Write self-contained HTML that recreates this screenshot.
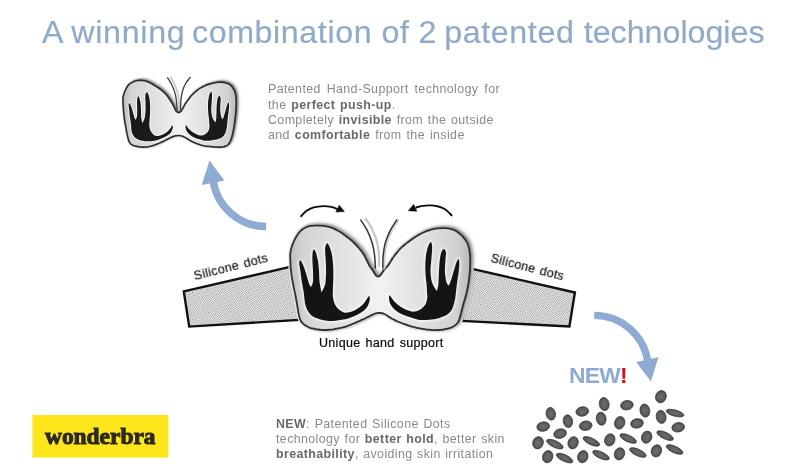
<!DOCTYPE html>
<html><head><meta charset="utf-8"><title>A winning combination of 2 patented technologies</title>
<style>
html,body{margin:0;padding:0;background:#fff}
#stage{position:relative;width:800px;height:476px;overflow:hidden;background:#fff;font-family:"Liberation Sans",sans-serif}
svg{position:absolute;left:0;top:0}
.t{position:absolute;white-space:pre;line-height:20px;height:20px;margin:0;will-change:transform}
.t b{color:#6a6a6a}
</style></head><body>
<div id="stage">
<svg width="800" height="476" viewBox="0 0 800 476">
<defs>
<linearGradient id="cup" x1="0" y1="0" x2="1" y2="0"><stop offset="0" stop-color="#c0c0c0"/><stop offset=".08" stop-color="#d4d4d4"/><stop offset=".3" stop-color="#e2e2e2"/><stop offset=".5" stop-color="#f2f2f2"/><stop offset=".7" stop-color="#e2e2e2"/><stop offset=".92" stop-color="#d2d2d2"/><stop offset="1" stop-color="#bababa"/></linearGradient>
<path id="bra" d="M377.9 276.6C377.1 276.6 376.2 275.9 375.6 275.2C375 274.6 374.6 273.6 374.1 272.7C373.6 271.8 373.1 270.9 372.6 270.1C372 269.3 371.4 268.5 370.8 267.7C370.2 266.9 369.7 266.1 369.1 265.2C368.6 264.3 368.2 263.4 367.8 262.5C367.3 261.6 366.9 260.7 366.5 259.8C366 258.9 365.6 258 365.2 257.1C364.7 256.2 364.2 255.4 363.7 254.5C363.2 253.7 362.6 252.8 362 252C361.5 251.2 360.8 250.4 360.2 249.7C359.6 248.9 358.9 248.1 358.2 247.4C357.6 246.6 356.9 245.9 356.2 245.2C355.5 244.4 354.8 243.7 354.1 243C353.4 242.3 352.7 241.6 352 240.9C351.2 240.3 350.5 239.6 349.7 239C348.9 238.4 348.1 237.8 347.3 237.2C346.5 236.6 345.7 236 344.9 235.4C344.1 234.8 343.3 234.2 342.5 233.6C341.6 233.1 340.8 232.5 340 231.9C339.2 231.4 338.3 230.9 337.4 230.5C336.5 230 335.6 229.5 334.7 229.1C333.8 228.7 332.9 228.2 332 227.9C331 227.5 330.1 227.2 329.1 226.9C328.2 226.6 327.2 226.4 326.2 226.3C325.2 226.1 324.2 226 323.2 225.9C322.2 225.8 321.2 225.7 320.2 225.7C319.2 225.6 318.2 225.6 317.2 225.6C316.3 225.6 315.2 225.5 314.3 225.6C313.3 225.6 312.2 225.7 311.3 225.8C310.3 225.9 309.3 226.1 308.3 226.4C307.4 226.7 306.4 227.1 305.6 227.5C304.7 227.9 303.8 228.4 303 229C302.2 229.6 301.4 230.2 300.7 230.9C299.9 231.6 299.3 232.3 298.7 233.1C298 233.9 297.5 234.7 297 235.6C296.4 236.4 296 237.3 295.5 238.2C295 239.1 294.6 240 294.1 240.9C293.7 241.8 293.3 242.7 292.9 243.6C292.5 244.5 292.2 245.5 291.9 246.4C291.6 247.4 291.3 248.3 291.1 249.3C290.8 250.3 290.6 251.3 290.5 252.3C290.4 253.2 290.3 254.2 290.2 255.2C290.2 256.2 290.3 257.2 290.3 258.2C290.3 259.2 290.4 260.2 290.4 261.2C290.5 262.2 290.5 263.2 290.5 264.2C290.6 265.2 290.6 266.2 290.7 267.2C290.8 268.2 290.8 269.2 290.9 270.2C291 271.2 291.1 272.2 291.3 273.2C291.4 274.2 291.5 275.2 291.7 276.2C291.9 277.2 292 278.1 292.2 279.1C292.4 280.1 292.5 281.1 292.7 282.1C292.9 283.1 293.1 284 293.3 285C293.5 286 293.7 287 293.9 288C294.1 288.9 294.3 289.9 294.5 290.9C294.7 291.9 294.9 292.9 295.1 293.8C295.3 294.8 295.5 295.8 295.7 296.8C295.9 297.8 296.1 298.7 296.2 299.7C296.4 300.7 296.6 301.7 296.8 302.7C296.9 303.7 297.1 304.6 297.3 305.6C297.4 306.6 297.6 307.6 297.8 308.6C297.9 309.6 298.1 310.6 298.2 311.6C298.4 312.5 298.6 313.5 298.8 314.5C299.1 315.5 299.3 316.5 299.5 317.4C299.8 318.4 300.1 319.3 300.5 320.2C301 321.1 301.5 322 302.2 322.7C302.8 323.4 303.6 324.1 304.4 324.7C305.2 325.3 306.1 325.8 306.9 326.3C307.8 326.8 308.7 327.2 309.6 327.6C310.6 327.9 311.5 328.2 312.5 328.4C313.5 328.7 314.5 328.9 315.4 329.1C316.4 329.3 317.4 329.4 318.4 329.5C319.4 329.7 320.4 329.8 321.4 329.8C322.4 329.9 323.4 330 324.4 330C325.4 330 326.4 330 327.4 330C328.4 329.9 329.4 329.8 330.4 329.7C331.3 329.6 332.3 329.4 333.3 329.3C334.3 329.1 335.3 328.9 336.3 328.7C337.3 328.6 338.2 328.4 339.2 328.2C340.2 328 341.2 327.8 342.2 327.6C343.1 327.3 344.1 327.1 345 326.8C346 326.5 346.9 326.1 347.9 325.8C348.8 325.4 349.7 325.1 350.7 324.7C351.6 324.3 352.5 323.9 353.4 323.5C354.4 323.2 355.3 322.8 356.2 322.4C357.1 322 358 321.6 359 321.2C359.9 320.8 360.8 320.3 361.7 319.9C362.6 319.5 363.5 319.1 364.4 318.7C365.3 318.2 366.2 317.8 367.1 317.3C368 316.9 368.9 316.4 369.8 316C370.7 315.5 371.5 315.1 372.5 314.7C373.4 314.3 374.3 313.8 375.2 313.5C376.2 313.2 377.2 313 378.2 312.9C379.1 312.8 380.2 312.8 381.1 313C382.1 313.1 383.1 313.4 384 313.8C384.9 314.2 385.8 314.7 386.6 315.2C387.5 315.7 388.3 316.3 389.1 316.9C390 317.4 390.8 318 391.6 318.5C392.5 319 393.4 319.5 394.3 319.9C395.2 320.3 396.1 320.7 397 321.2C397.9 321.6 398.9 321.9 399.8 322.3C400.7 322.7 401.6 323 402.6 323.4C403.5 323.7 404.5 324.1 405.4 324.4C406.4 324.7 407.3 325 408.2 325.4C409.2 325.7 410.1 326 411.1 326.3C412.1 326.6 413 326.9 414 327.2C414.9 327.5 415.9 327.7 416.9 327.9C417.8 328.1 418.8 328.2 419.8 328.3C420.8 328.5 421.8 328.7 422.8 328.8C423.8 329 424.8 329.2 425.7 329.3C426.7 329.5 427.7 329.6 428.7 329.7C429.7 329.8 430.7 329.9 431.7 330C432.7 330 433.7 330.1 434.7 330.1C435.7 330.1 436.7 330.1 437.7 330C438.7 330 439.7 329.9 440.7 329.8C441.7 329.7 442.7 329.6 443.7 329.5C444.7 329.3 445.6 329.1 446.6 328.9C447.6 328.7 448.6 328.5 449.5 328.2C450.5 327.8 451.4 327.5 452.3 327C453.2 326.6 454.1 326.1 454.9 325.5C455.7 324.9 456.4 324.3 457.1 323.5C457.7 322.8 458.2 321.9 458.7 321C459.1 320.1 459.4 319.2 459.7 318.2C460 317.3 460.2 316.3 460.4 315.3C460.7 314.3 460.9 313.4 461.2 312.4C461.4 311.4 461.7 310.5 461.9 309.5C462.2 308.5 462.4 307.6 462.7 306.6C462.9 305.6 463.2 304.7 463.4 303.7C463.7 302.7 464 301.8 464.3 300.8C464.6 299.9 464.9 298.9 465.2 297.9C465.5 297 465.7 296 466 295.1C466.2 294.1 466.5 293.1 466.7 292.1C466.9 291.2 467.1 290.2 467.3 289.2C467.5 288.2 467.7 287.3 467.9 286.3C468.1 285.3 468.3 284.3 468.4 283.3C468.6 282.3 468.7 281.3 468.9 280.3C469 279.4 469.1 278.4 469.2 277.4C469.3 276.4 469.4 275.4 469.5 274.4C469.6 273.4 469.7 272.4 469.8 271.4C469.9 270.4 469.9 269.4 470 268.4C470 267.4 470.1 266.4 470.1 265.4C470.2 264.4 470.2 263.4 470.2 262.4C470.2 261.4 470.2 260.4 470.2 259.4C470.2 258.4 470.1 257.4 470.1 256.4C470 255.4 469.9 254.4 469.8 253.4C469.7 252.4 469.5 251.4 469.4 250.5C469.2 249.5 469.1 248.5 468.8 247.5C468.6 246.5 468.3 245.6 467.9 244.7C467.6 243.7 467.2 242.8 466.7 241.9C466.2 241.1 465.7 240.2 465.1 239.4C464.5 238.6 463.8 237.8 463.2 237.1C462.5 236.3 461.8 235.6 461.1 234.9C460.4 234.3 459.6 233.6 458.8 233C458.1 232.4 457.2 231.8 456.4 231.2C455.5 230.7 454.7 230.3 453.7 229.9C452.8 229.5 451.9 229.2 450.9 228.9C449.9 228.7 448.9 228.6 447.9 228.4C447 228.3 446 228.2 445 228.2C444 228.1 443 228.1 442 228.1C441 228.1 440 228.2 439 228.3C438 228.3 437 228.5 436 228.6C435 228.8 434 229 433.1 229.2C432.1 229.4 431.1 229.7 430.2 230C429.2 230.2 428.2 230.6 427.3 230.9C426.4 231.2 425.4 231.6 424.5 232C423.6 232.4 422.7 232.8 421.8 233.3C420.9 233.7 420 234.2 419.1 234.6C418.3 235.1 417.4 235.6 416.6 236.2C415.7 236.7 414.9 237.3 414 237.8C413.2 238.4 412.4 238.9 411.6 239.5C410.8 240.1 410 240.7 409.2 241.3C408.4 241.9 407.6 242.5 406.8 243.1C406 243.7 405.2 244.3 404.4 245C403.7 245.6 402.9 246.3 402.2 246.9C401.4 247.6 400.7 248.3 400 249C399.3 249.8 398.6 250.5 398 251.3C397.3 252 396.7 252.8 396.1 253.6C395.5 254.4 394.9 255.2 394.3 256C393.7 256.8 393.1 257.6 392.6 258.4C392 259.2 391.5 260.1 391 261C390.4 261.8 390 262.7 389.4 263.5C388.9 264.4 388.3 265.2 387.7 266C387.1 266.7 386.3 267.5 385.7 268.2C385 268.9 384.3 269.7 383.7 270.4C383.1 271.2 382.6 272.1 382 272.9C381.5 273.7 381 274.7 380.3 275.3C379.6 276 378.7 276.7 377.9 276.6Z"/><path id="sbra" d="M178.5 112.59C177.74 112.62 177 112.03 176.44 111.49C175.88 110.96 175.53 110.11 175.14 109.38C174.75 108.65 174.46 107.86 174.1 107.11C173.75 106.36 173.38 105.61 172.99 104.87C172.59 104.14 172.17 103.42 171.75 102.7C171.33 101.98 170.91 101.26 170.48 100.55C170.04 99.84 169.6 99.13 169.13 98.45C168.67 97.76 168.19 97.07 167.68 96.42C167.16 95.76 166.62 95.13 166.06 94.51C165.51 93.89 164.92 93.3 164.32 92.72C163.73 92.13 163.11 91.57 162.49 91.02C161.86 90.47 161.23 89.93 160.57 89.43C159.91 88.92 159.22 88.44 158.53 87.98C157.83 87.52 157.12 87.1 156.41 86.66C155.7 86.22 154.99 85.79 154.28 85.35C153.56 84.92 152.86 84.48 152.13 84.07C151.41 83.65 150.69 83.24 149.94 82.87C149.2 82.49 148.44 82.14 147.67 81.82C146.9 81.51 146.12 81.21 145.32 80.99C144.52 80.77 143.7 80.63 142.87 80.53C142.05 80.43 141.21 80.41 140.38 80.4C139.55 80.4 138.71 80.42 137.88 80.52C137.06 80.61 136.23 80.74 135.44 80.98C134.65 81.22 133.9 81.61 133.15 81.97C132.41 82.34 131.66 82.73 130.96 83.17C130.26 83.61 129.54 84.07 128.94 84.63C128.34 85.19 127.82 85.85 127.35 86.53C126.89 87.21 126.52 87.97 126.14 88.71C125.76 89.45 125.4 90.21 125.07 90.97C124.73 91.73 124.41 92.5 124.14 93.29C123.86 94.07 123.62 94.87 123.43 95.68C123.25 96.49 123.11 97.32 123.04 98.14C122.97 98.97 123 99.81 123.01 100.64C123.02 101.47 123.05 102.31 123.08 103.14C123.12 103.97 123.16 104.8 123.2 105.64C123.25 106.47 123.3 107.3 123.35 108.13C123.41 108.96 123.47 109.79 123.53 110.62C123.6 111.45 123.67 112.28 123.75 113.11C123.83 113.94 123.92 114.77 124.02 115.6C124.11 116.42 124.22 117.25 124.33 118.08C124.45 118.9 124.57 119.73 124.69 120.55C124.82 121.37 124.95 122.2 125.08 123.02C125.22 123.84 125.36 124.66 125.5 125.48C125.64 126.3 125.78 127.12 125.93 127.94C126.08 128.76 126.22 129.58 126.38 130.4C126.53 131.22 126.69 132.04 126.86 132.85C127.02 133.67 127.19 134.49 127.37 135.3C127.55 136.11 127.73 136.93 127.93 137.74C128.13 138.54 128.29 139.37 128.57 140.15C128.85 140.93 129.15 141.72 129.58 142.41C130.02 143.1 130.54 143.8 131.17 144.31C131.8 144.81 132.6 145.13 133.36 145.43C134.13 145.73 134.96 145.9 135.77 146.1C136.58 146.3 137.39 146.47 138.21 146.62C139.03 146.76 139.86 146.9 140.68 146.99C141.51 147.07 142.34 147.13 143.18 147.15C144.01 147.16 144.84 147.14 145.67 147.07C146.5 147.01 147.33 146.9 148.15 146.76C148.97 146.62 149.79 146.45 150.59 146.25C151.4 146.05 152.2 145.81 153 145.56C153.79 145.31 154.58 145.03 155.36 144.75C156.14 144.46 156.92 144.16 157.69 143.85C158.46 143.53 159.23 143.22 159.99 142.88C160.75 142.54 161.51 142.18 162.25 141.81C163 141.44 163.74 141.05 164.48 140.67C165.22 140.29 165.95 139.89 166.69 139.51C167.43 139.13 168.18 138.76 168.92 138.39C169.67 138.03 170.42 137.67 171.19 137.33C171.95 136.99 172.71 136.64 173.49 136.37C174.28 136.1 175.08 135.86 175.9 135.71C176.71 135.56 177.55 135.47 178.37 135.48C179.2 135.48 180.04 135.58 180.85 135.76C181.65 135.94 182.44 136.24 183.21 136.56C183.97 136.87 184.71 137.27 185.44 137.67C186.17 138.07 186.88 138.52 187.59 138.94C188.31 139.36 189.02 139.81 189.74 140.22C190.46 140.63 191.19 141.04 191.94 141.41C192.68 141.79 193.44 142.14 194.2 142.48C194.95 142.82 195.72 143.15 196.49 143.47C197.26 143.78 198.04 144.09 198.82 144.37C199.6 144.65 200.39 144.93 201.19 145.16C201.99 145.39 202.8 145.6 203.61 145.77C204.43 145.94 205.25 146.06 206.08 146.17C206.9 146.28 207.73 146.34 208.56 146.42C209.39 146.5 210.22 146.56 211.05 146.63C211.88 146.7 212.71 146.78 213.54 146.85C214.37 146.92 215.2 146.99 216.04 147.04C216.87 147.09 217.7 147.14 218.53 147.16C219.36 147.17 220.2 147.17 221.03 147.11C221.86 147.05 222.7 146.98 223.5 146.81C224.31 146.64 225.14 146.44 225.89 146.09C226.63 145.75 227.34 145.28 227.95 144.73C228.55 144.18 229.06 143.49 229.51 142.8C229.95 142.1 230.29 141.33 230.61 140.56C230.94 139.8 231.21 139.01 231.47 138.21C231.72 137.42 231.94 136.62 232.15 135.81C232.36 135.01 232.54 134.19 232.72 133.38C232.89 132.56 233.05 131.75 233.21 130.93C233.37 130.11 233.52 129.29 233.66 128.47C233.81 127.65 233.95 126.83 234.08 126.01C234.21 125.18 234.34 124.36 234.47 123.54C234.59 122.71 234.71 121.89 234.82 121.06C234.93 120.24 235.03 119.41 235.13 118.58C235.23 117.76 235.32 116.93 235.41 116.1C235.49 115.27 235.57 114.44 235.64 113.61C235.71 112.78 235.77 111.95 235.83 111.12C235.89 110.29 235.94 109.46 235.99 108.63C236.04 107.79 236.08 106.96 236.12 106.13C236.15 105.3 236.18 104.47 236.2 103.63C236.21 102.8 236.22 101.97 236.2 101.13C236.19 100.3 236.16 99.47 236.09 98.64C236.03 97.81 235.95 96.98 235.83 96.15C235.71 95.33 235.57 94.51 235.37 93.7C235.17 92.89 234.94 92.09 234.64 91.31C234.34 90.54 233.99 89.78 233.59 89.05C233.18 88.33 232.73 87.62 232.21 86.97C231.69 86.33 231.11 85.71 230.48 85.19C229.84 84.67 229.13 84.21 228.39 83.83C227.66 83.45 226.87 83.16 226.07 82.92C225.28 82.68 224.46 82.51 223.64 82.38C222.82 82.25 221.98 82.17 221.15 82.13C220.32 82.1 219.49 82.11 218.66 82.17C217.83 82.24 217.01 82.37 216.19 82.52C215.37 82.66 214.56 82.85 213.74 83.04C212.93 83.23 212.13 83.45 211.32 83.66C210.52 83.87 209.7 84.06 208.91 84.3C208.11 84.54 207.31 84.77 206.54 85.08C205.77 85.38 205.03 85.78 204.27 86.13C203.52 86.48 202.75 86.81 202.01 87.19C201.27 87.57 200.54 87.97 199.84 88.42C199.14 88.87 198.47 89.36 197.8 89.86C197.13 90.36 196.48 90.88 195.84 91.42C195.2 91.95 194.57 92.5 193.96 93.06C193.35 93.63 192.75 94.21 192.18 94.81C191.61 95.41 191.06 96.04 190.52 96.68C189.99 97.32 189.48 97.98 188.97 98.64C188.47 99.31 187.99 99.98 187.51 100.66C187.02 101.34 186.55 102.03 186.09 102.72C185.63 103.42 185.17 104.11 184.75 104.83C184.32 105.55 183.94 106.29 183.55 107.02C183.15 107.75 182.8 108.52 182.38 109.23C181.96 109.94 181.65 110.74 181 111.3C180.36 111.86 179.26 112.56 178.5 112.59Z"/><path id="lh" d="M299.7 260.6C300 260.2 300.5 260.1 301.3 261.4C302.1 262.6 303.4 265.6 304.3 268.1C305.2 270.6 306.1 273.9 306.9 276.5C307.7 279.1 308.4 282 309.1 283.8C309.8 285.6 310.7 286.6 311 287.2C311.3 286.2 312.7 284.2 313 281.5C313.3 278.8 313.1 274.5 313 271C312.9 267.5 312.5 263.5 312.4 260.5C312.3 257.5 312.4 255 312.6 253.2C312.8 251.4 313.2 249.8 313.7 249.6C314.2 249.4 314.9 250 315.6 251.8C316.3 253.6 317.3 257.3 317.9 260.5C318.5 263.7 318.7 267.5 319 271C319.3 274.5 319.1 277.9 319.5 281.5C319.9 285.1 321.2 290.6 321.5 292.4C322.1 291.2 324.3 287.4 325 285C325.7 282.6 325.6 280.3 325.8 278C326 275.7 326.1 274 326.1 271C326.1 268 325.9 263.8 325.7 260C325.5 256.2 324.9 251.2 325.1 248.4C325.3 245.6 326.3 243.9 326.9 243.4C327.5 242.9 328.1 243.5 328.9 245.3C329.7 247.1 331.1 250.5 331.8 254C332.5 257.5 332.9 262.3 333.2 266.5C333.4 270.7 333.4 275.1 333.3 279C333.2 282.9 332.9 286.9 332.9 290C332.8 293.1 332.6 295.1 333 297.5C333.4 299.9 333.9 302.4 335 304.5C336.1 306.6 337.6 308.4 339.3 309.8C341 311.2 342.8 312.4 345 312.7C347.2 312.9 350.2 312.2 352.6 311.3C355 310.4 357.3 308.9 359.2 307.5C361.1 306.1 362.6 304.7 363.9 303.2C365.2 301.7 366.3 299.7 367.2 298.5C368.1 297.3 368.7 295.9 369.1 296.1C369.5 296.3 370 297.8 369.8 299.5C369.6 301.2 368.8 304.1 367.7 306.1C366.6 308.1 365.2 309.7 363 311.3C360.8 312.9 357.5 314.7 354.5 316C351.5 317.3 348.7 318.5 345 319.3C341.3 320.1 336 320.9 332.3 321C328.6 321.1 326 320.7 322.8 320C319.6 319.3 315.8 318 313.4 316.7C311 315.4 310 314 308.6 312C307.2 310 306.1 307.8 305.3 304.5C304.5 301.2 304.3 295.8 303.7 292C303.1 288.2 302.4 285 301.8 281.5C301.2 278 300.8 273.9 300.4 271C300 268.1 299.4 265.7 299.3 264C299.2 262.3 299.4 261 299.7 260.6Z"/><path id="rh" d="M458.4 259C458 258.7 457.6 259.9 457.1 260.9C456.6 261.9 456.1 263.2 455.5 265.2C454.9 267.2 454.1 270 453.2 273C452.3 276 450.8 281 450 283.1C449.2 285.2 448.7 285.2 448.4 285.6C448 284.9 446.9 284 446.3 281.6C445.7 279.2 445 275.3 444.9 271.5C444.8 267.7 445.3 262.1 445.5 258.9C445.7 255.7 446.2 253.9 445.9 252.2C445.6 250.5 444.6 249.1 443.9 248.9C443.2 248.7 442.4 250 441.8 251.2C441.2 252.4 440.8 253.7 440.4 256C440 258.3 439.6 261.6 439.3 265.2C439 268.8 438.9 274.5 438.7 277.8C438.5 281.1 438.6 282.8 438.3 285C438 287.2 437.2 290 437 291C436.6 290.5 435.6 289.6 434.7 288C433.8 286.4 432.5 284.4 431.8 281.6C431.1 278.9 430.6 275.3 430.5 271.5C430.4 267.7 431.1 262.9 431.4 258.9C431.7 254.9 432.2 250.1 432.2 247.3C432.1 244.5 431.6 242.7 431.1 242.2C430.6 241.7 429.7 243.2 429.1 244.3C428.5 245.4 428 246.2 427.4 248.6C426.8 251 425.9 255.1 425.6 258.9C425.3 262.7 425.2 267.3 425.4 271.5C425.5 275.7 426.2 280.7 426.5 284.1C426.8 287.5 426.9 289.7 427 292C427.1 294.3 427.6 295.7 427.3 297.8C427 299.9 426.5 302.6 425.4 304.5C424.3 306.4 422.4 308 420.7 309.2C419 310.4 416.9 311.3 415 311.6C413.1 311.9 411.5 311.5 409.3 310.8C407.1 310.1 404.2 308.9 401.8 307.5C399.4 306.1 396.8 303.9 395.1 302.3C393.4 300.7 392.3 298.8 391.4 297.6C390.5 296.4 389.9 295.1 389.5 295.2C389.1 295.3 388.8 296.9 389 298.5C389.2 300.1 389.7 303.1 390.9 305.1C392.1 307.2 394 309.1 396.1 310.8C398.2 312.5 400.6 313.8 403.7 315.1C406.8 316.4 412.3 317.9 415 318.7C417.7 319.5 417.3 319.8 419.7 320C422.1 320.2 426 320.1 429.2 319.8C432.4 319.5 435.8 318.9 438.6 318.2C441.4 317.4 444.1 316.5 446.2 315.3C448.2 314.1 449.6 312.9 450.9 311.1C452.2 309.3 453 306.9 453.8 304.5C454.5 302.1 454.9 300.4 455.4 297C455.9 293.6 456.3 288.4 456.9 284.1C457.4 279.9 458.3 275.1 458.7 271.5C459.1 267.9 459.4 264.8 459.3 262.7C459.2 260.6 458.8 259.3 458.4 259Z"/>
<filter id="blur3" x="-20%" y="-20%" width="140%" height="140%"><feGaussianBlur stdDeviation="2.2"/></filter>
<filter id="blur2" x="-20%" y="-20%" width="140%" height="140%"><feGaussianBlur stdDeviation="1.7"/></filter>
<filter id="blur05" x="-20%" y="-20%" width="140%" height="140%"><feGaussianBlur stdDeviation="0.6"/></filter>
<radialGradient id="dotg"><stop offset="0" stop-color="#6e6e6e"/><stop offset=".7" stop-color="#5c5c5c"/><stop offset="1" stop-color="#444"/></radialGradient>
<filter id="blur1" x="-20%" y="-20%" width="140%" height="140%"><feGaussianBlur stdDeviation="1"/></filter>
<filter id="blur" x="-20%" y="-20%" width="140%" height="140%"><feGaussianBlur stdDeviation="1.6"/></filter>
<pattern id="dotpat" width="2.4" height="2.4" patternUnits="userSpaceOnUse" patternTransform="rotate(10)"><rect width="2.4" height="2.4" fill="#fdfdfd"/><rect x="0" y="0" width="1.15" height="1.15" fill="#868686"/><rect x="1.2" y="1.2" width="1.15" height="1.15" fill="#a6a6a6"/></pattern>
</defs>

<g fill="url(#dotpat)" stroke="#111" stroke-width="2.4" stroke-linejoin="miter"><path d="M183.8 291.4L291 266.6L299 319.9L189.2 326.6Z"/><path d="M470 268.4L574.9 292.5L569.4 326.4L462 320.9Z"/></g>
<g><use href="#bra" fill="#ececec" stroke="#ececec" stroke-width="6" stroke-linejoin="round" filter="url(#blur05)" transform="translate(0.8 0)"/>
<use href="#bra" fill="#222" opacity=".42" filter="url(#blur3)" transform="translate(2.8 -1.6)"/>
<use href="#bra" fill="#222" opacity=".45" filter="url(#blur)" transform="translate(0.8 -0.4)"/>
<use href="#bra" fill="url(#cup)" stroke="#303030" stroke-width="1.8"/>
<g filter="url(#blur1)" fill="none" stroke="#fff" stroke-width="3" opacity=".7"><use href="#lh"/><use href="#rh"/></g>
<use href="#lh" fill="#141414"/><use href="#rh" fill="#141414"/>
<g fill="none" stroke-linecap="round"><path d="M365.8 218.9C366.8 220.4 369.7 224.1 371.5 227.7C373.3 231.3 375.3 236.1 376.5 240.3C377.7 244.5 378.4 248.6 378.8 252.9C379.2 257.2 379.1 263.8 379.2 266" stroke="#c6c6c6" stroke-width="2.2" filter="url(#blur05)"/><path d="M396.7 220.1C395.6 221.8 392.3 226.4 390.4 230.2C388.5 234 386.5 238.6 385.3 242.8C384.1 247 383.6 251.2 383.2 255.4C382.8 259.6 382.9 265.9 382.8 268" stroke="#d0d0d0" stroke-width="2" transform="translate(1.6 0.3)" filter="url(#blur05)"/><path d="M360.8 220.1C361.9 221.8 365.2 226.4 367.1 230.2C369 234 370.9 238.6 372.1 242.8C373.4 247 374.1 251.2 374.6 255.4C375.1 259.6 375.2 265.9 375.3 268" stroke="#333" stroke-width="1.5"/><path d="M396.7 220.1C395.6 221.8 392.3 226.4 390.4 230.2C388.5 234 386.5 238.6 385.3 242.8C384.1 247 383.6 251.2 383.2 255.4C382.8 259.6 382.9 265.9 382.8 268" stroke="#333" stroke-width="1.5"/></g></g>
<g><use href="#sbra" fill="#ececec" stroke="#ececec" stroke-width="4" stroke-linejoin="round" filter="url(#blur05)" transform="translate(0.5 0)"/>
<use href="#sbra" fill="#222" opacity=".5" filter="url(#blur2)" transform="translate(2.2 -1.6)"/>
<use href="#sbra" fill="#222" opacity=".55" filter="url(#blur1)" transform="translate(0.6 -0.4)"/>
<use href="#sbra" fill="url(#cup)" stroke="#2c2c2c" stroke-width="1.6"/>
<g filter="url(#blur05)" fill="none" stroke="#fff" stroke-width="3" opacity=".7"><use href="#lh" transform="matrix(0.6374 -0.0043 -0.0202 0.6334 -56.845 -60.589)"/><use href="#rh" transform="matrix(0.6231 -0.0009 0.0088 0.6307 -59.399 -60.729)"/></g>
<use href="#lh" fill="#1a1a1a" transform="matrix(0.6374 -0.0043 -0.0202 0.6334 -56.845 -60.589)"/><use href="#rh" fill="#1a1a1a" transform="matrix(0.6231 -0.0009 0.0088 0.6307 -59.399 -60.729)"/>
<g fill="none" stroke-linecap="round"><path d="M170.8 77.4C171.4 78.6 173.5 81.9 174.6 84.5C175.7 87.1 176.9 90.2 177.6 93C178.3 95.8 178.7 98.8 179 101.5C179.3 104.2 179.2 107.8 179.2 109" stroke="#c8c8c8" stroke-width="1.8" filter="url(#blur05)"/><path d="M167.6 77.9C168.3 79 170.6 82.2 171.8 84.7C173 87.2 174.2 90.3 175 93.1C175.8 95.9 176.2 98.8 176.5 101.5C176.8 104.2 177 108.2 177.1 109.5" stroke="#3a3a3a" stroke-width="1.3"/><path d="M190.2 77.4C189.4 78.5 186.8 81.4 185.5 83.7C184.2 86 183.2 88.4 182.5 91C181.8 93.6 181.3 96.3 181 99.4C180.7 102.5 180.6 107.8 180.5 109.5" stroke="#3a3a3a" stroke-width="1.3"/></g></g>
<path d="M266.2 226.5A53.6 53.6 0 0 1 213.2 181" fill="none" stroke="#8faad3" stroke-width="7.5"/><path d="M209.5 160.4L224.4 180.6L201.7 185Z" fill="#8faad3"/><path d="M594.2 315.3A54.1 54.1 0 0 1 647.8 361.5" fill="none" stroke="#8faad3" stroke-width="7.3"/><path d="M636.1 362L658.4 357.3L650.9 381.5Z" fill="#8faad3"/>
<g fill="none" stroke="#0c0c0c" stroke-width="1.9"><path d="M300.6 216.75C301.54 215.81 304.06 212.66 306.25 211.1C308.44 209.54 310.88 208.23 313.75 207.4C316.62 206.57 320.62 206.19 323.5 206.1C326.38 206.01 328.67 206.37 331 206.85C333.33 207.33 336.42 208.64 337.5 209"/><path d="M452.1 215.85C450.92 214.75 447.43 210.85 445 209.25C442.57 207.65 440 206.9 437.5 206.25C435 205.6 432.5 205.41 430 205.35C427.5 205.29 424.9 205.53 422.5 205.9C420.1 206.28 416.75 207.32 415.6 207.6"/></g>
<g fill="#0c0c0c" stroke="#0c0c0c" stroke-width="0.6" stroke-linejoin="round"><path d="M339.25 205.3L344.3 211.6L335.9 212Z"/><path d="M413.65 204.4L408.4 210.7L416.8 211.2Z"/></g>
<g fill="url(#dotg)" stroke="#3c3c3c" stroke-width="0.7"><ellipse cx="550.8" cy="413.8" rx="4.7" ry="6.4" transform="rotate(-10 550.8 413.8)"/><ellipse cx="543.2" cy="426.6" rx="6.4" ry="4.7" transform="rotate(-10 543.2 426.6)"/><ellipse cx="567.9" cy="421.2" rx="4.7" ry="6.4" transform="rotate(-10 567.9 421.2)"/><ellipse cx="582.3" cy="411.5" rx="6.4" ry="4.7" transform="rotate(-10 582.3 411.5)"/><ellipse cx="604.2" cy="404.1" rx="4.9" ry="6.6" transform="rotate(-10 604.2 404.1)"/><ellipse cx="601.2" cy="418.7" rx="4.9" ry="6.6" transform="rotate(-10 601.2 418.7)"/><ellipse cx="585.7" cy="425.7" rx="6.4" ry="4.7" transform="rotate(-10 585.7 425.7)"/><ellipse cx="560.1" cy="433.6" rx="6.4" ry="4.7" transform="rotate(-15 560.1 433.6)"/><ellipse cx="538.0" cy="442.8" rx="5.3" ry="6.2" transform="rotate(20 538.0 442.8)"/><ellipse cx="554.9" cy="444.1" rx="9.0" ry="3.3" transform="rotate(25 554.9 444.1)"/><ellipse cx="573.1" cy="442.8" rx="5.1" ry="6.2" transform="rotate(20 573.1 442.8)"/><ellipse cx="591.3" cy="441.4" rx="9.0" ry="3.3" transform="rotate(25 591.3 441.4)"/><ellipse cx="609.8" cy="439.9" rx="5.1" ry="6.2" transform="rotate(20 609.8 439.9)"/><ellipse cx="619.7" cy="422.8" rx="5.1" ry="6.4" transform="rotate(15 619.7 422.8)"/><ellipse cx="626.9" cy="405.2" rx="6.4" ry="4.7" transform="rotate(-10 626.9 405.2)"/><ellipse cx="644.9" cy="410.6" rx="4.9" ry="6.6" transform="rotate(-10 644.9 410.6)"/><ellipse cx="637.0" cy="423.4" rx="6.4" ry="4.7" transform="rotate(-10 637.0 423.4)"/><ellipse cx="660.9" cy="396.7" rx="5.3" ry="6.2" transform="rotate(20 660.9 396.7)"/><ellipse cx="661.1" cy="416.9" rx="4.9" ry="6.6" transform="rotate(-10 661.1 416.9)"/><ellipse cx="675.0" cy="413.1" rx="9.2" ry="3.1" transform="rotate(15 675.0 413.1)"/><ellipse cx="678.2" cy="427.3" rx="6.4" ry="4.7" transform="rotate(-10 678.2 427.3)"/><ellipse cx="628.2" cy="438.5" rx="9.0" ry="3.3" transform="rotate(25 628.2 438.5)"/><ellipse cx="646.7" cy="437.2" rx="5.1" ry="6.2" transform="rotate(20 646.7 437.2)"/><ellipse cx="665.1" cy="435.6" rx="9.0" ry="3.3" transform="rotate(25 665.1 435.6)"/><ellipse cx="547.7" cy="456.7" rx="5.1" ry="6.2" transform="rotate(20 547.7 456.7)"/><ellipse cx="564.6" cy="458.1" rx="9.0" ry="3.3" transform="rotate(25 564.6 458.1)"/><ellipse cx="582.8" cy="456.7" rx="5.1" ry="6.2" transform="rotate(20 582.8 456.7)"/><ellipse cx="601.0" cy="455.2" rx="9.0" ry="3.3" transform="rotate(25 601.0 455.2)"/><ellipse cx="619.5" cy="453.8" rx="5.1" ry="6.2" transform="rotate(20 619.5 453.8)"/><ellipse cx="637.9" cy="452.5" rx="9.0" ry="3.3" transform="rotate(25 637.9 452.5)"/><ellipse cx="656.4" cy="450.9" rx="5.1" ry="6.2" transform="rotate(20 656.4 450.9)"/><ellipse cx="674.6" cy="449.5" rx="9.0" ry="3.3" transform="rotate(25 674.6 449.5)"/></g>
<rect x="32.4" y="415" width="136" height="42.6" fill="#fee61c"/>

</svg>
<h1 class="t" id="title" style="left:0;top:11.9px;width:800px;font-size:32.2px;font-weight:normal;line-height:40px;height:40px;color:#90aaca;-webkit-text-stroke:0.2px #90aaca"><span style="position:absolute;left:42px;letter-spacing:0px">A</span> <span style="position:absolute;left:71.25px;letter-spacing:0.708px">winning</span> <span style="position:absolute;left:192px;letter-spacing:0.6px">combination</span> <span style="position:absolute;left:381.5px;letter-spacing:0.6px">of</span> <span style="position:absolute;left:418.5px;letter-spacing:0px">2</span> <span style="position:absolute;left:444.25px;letter-spacing:0.607px">patented</span> <span style="position:absolute;left:583.75px;letter-spacing:0px">technologies</span></h1><div class="t" style="left:268.0px;top:78.9px;font-size:12.4px;color:#8a8a8a;letter-spacing:0.4px;word-spacing:2.03px;">Patented Hand-Support technology for</div><div class="t" style="left:268.2px;top:94.5px;font-size:12.4px;color:#8a8a8a;letter-spacing:0.4px;word-spacing:0.9px;">the <b>perfect push-up</b>.</div><div class="t" style="left:268.0px;top:110.0px;font-size:12.4px;color:#8a8a8a;letter-spacing:0.4px;word-spacing:0.9px;">Completely <b>invisible</b> from the outside</div><div class="t" style="left:268.2px;top:125.0px;font-size:12.4px;color:#8a8a8a;letter-spacing:0.4px;word-spacing:1.13px;">and <b>comfortable</b> from the inside</div><div class="t" style="left:276.2px;top:413.7px;font-size:12.4px;color:#8a8a8a;letter-spacing:0.4px;word-spacing:0.84px;"><b>NEW</b>: Patented Silicone Dots</div><div class="t" style="left:276.2px;top:429.1px;font-size:12.4px;color:#8a8a8a;letter-spacing:0.4px;word-spacing:0.78px;">technology for <b>better hold</b>, better skin</div><div class="t" style="left:276.2px;top:444.4px;font-size:12.4px;color:#8a8a8a;letter-spacing:0.4px;word-spacing:0.66px;"><b>breathability</b>, avoiding skin irritation</div><div class="t" style="left:319.4px;top:333.17px;font-size:12.5px;color:#0a0a0a;letter-spacing:0.3px;word-spacing:1.4px;-webkit-text-stroke:0.2px #0a0a0a;">Unique hand support</div><div class="t" style="left:194.6px;top:265.67px;font-size:12.5px;color:#0a0a0a;letter-spacing:0.3px;word-spacing:1.4px;-webkit-text-stroke:0.15px #0a0a0a;transform-origin:0.8px 14.13px;transform:rotate(-14.2deg);">Silicone dots</div><div class="t" style="left:490.4px;top:247.77px;font-size:12.5px;color:#0a0a0a;letter-spacing:0.25px;word-spacing:1.0px;-webkit-text-stroke:0.15px #0a0a0a;transform-origin:0.8px 14.13px;transform:rotate(14.4deg);">Silicone dots</div><div class="t" style="left:568.9px;top:360.4646px;font-size:22.8px;font-weight:bold;color:#8faad3;line-height:30px;height:30px;letter-spacing:-0.7px">NEW<span style="color:#c4161c">!</span></div><div class="t" id="logo" style="left:44.6px;top:422.0px;font-family:'Liberation Serif',serif;font-weight:bold;font-size:22.4px;line-height:30px;height:30px;color:#2e2a1e;-webkit-text-stroke:1px #2e2a1e;transform-origin:0 0;transform:scaleX(1.045)">wonderbra</div>
</div>
</body></html>
